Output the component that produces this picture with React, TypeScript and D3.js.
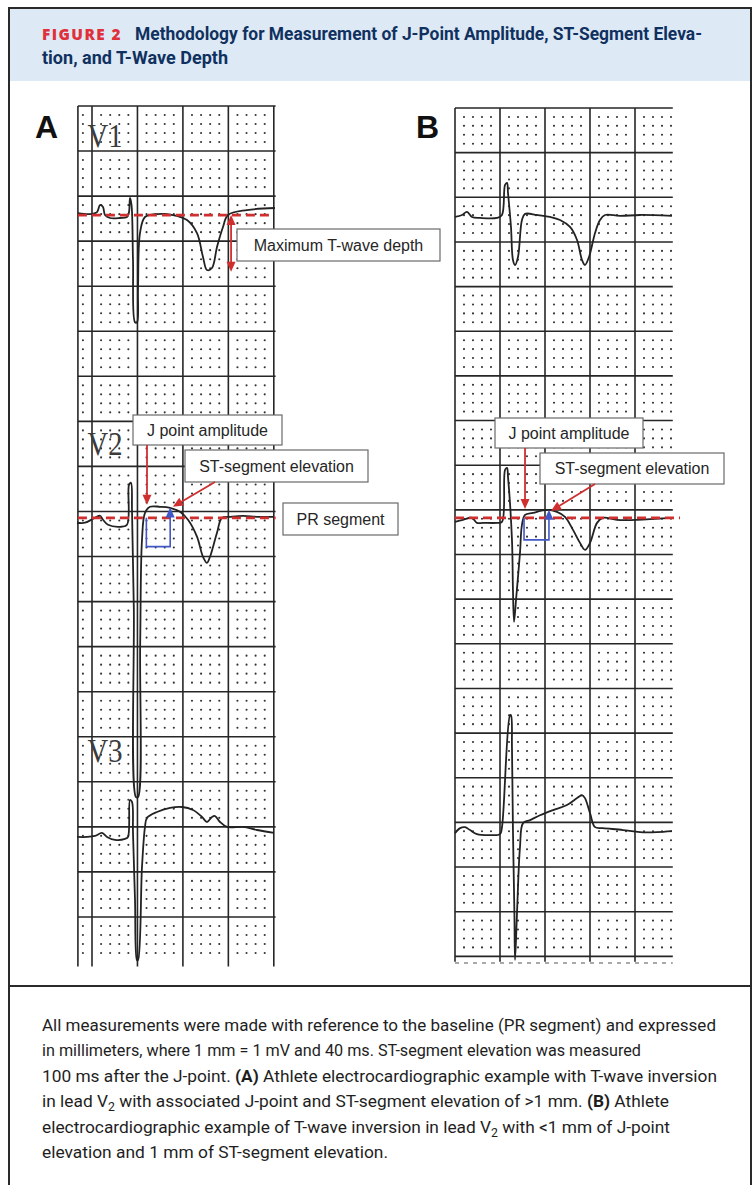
import { useEffect, useRef } from "react";
import * as d3 from "d3";

type Pt = [number, number];

// ECG traces: [time along paper in mm, amplitude in mm above the lead baseline]
const traceAV1: Pt[] = [
  [-1.54, 0.22], [-0.22, 0.11], [0.55, 0.33], [0.88, 1.11], [1.21, 0.89], [1.43, 0], [1.98, -0.33],
  [3.08, -0.33], [3.85, -0.22], [4.07, 0.33], [4.18, 1.89], [4.35, 1.1], [4.51, -5.0], [4.73, -11.9],
  [4.95, -11.9], [5.06, -8.3], [5.28, -2.0], [5.83, -0.22], [7.15, 0.11], [8.91, 0], [10.45, -0.55],
  [11.55, -2.0], [12.21, -4.66], [12.65, -6.1], [13.2, -5.88], [13.75, -3.55], [14.41, -1.33],
  [14.96, 0], [17.05, 0.55], [20.13, 0.78],
];
const traceAV2: Pt[] = [
  [-1.65, -0.55], [-0.77, -0.55], [0.33, 0], [0.88, 0.22], [1.21, -0.22], [1.76, -0.78], [3.08, -1.0],
  [3.85, -0.78], [4.07, 3.66], [4.29, 3.88], [4.4, 0.89], [4.6, -10], [4.84, -31], [5.06, -31],
  [5.3, -14], [5.5, -2.44], [5.83, 0.55], [6.38, 1.22], [7.48, 1.22], [8.58, 1.11], [9.68, 0.67],
  [10.56, -0.22], [11.55, -2.1], [12.21, -4.33], [12.65, -5.0], [12.98, -4.33], [13.75, -1.66],
  [14.3, 0], [15.18, 0.11], [16.61, 0.22], [18.15, 0.11], [20.02, 0.11],
];
const traceAV3: Pt[] = [
  [-1.65, -0.22], [-0.55, -0.22], [0.33, -0.11], [1.1, 0.22], [1.65, -0.22], [2.53, -0.55],
  [3.63, -0.44], [3.96, -0.22], [4.18, 3.88], [4.4, 3.66], [4.51, 0.22], [4.73, -7.2], [4.95, -13.9],
  [5.06, -13.9], [5.5, -3.55], [5.83, 0.89], [6.05, 1.89], [7.15, 2.55], [8.58, 3.0], [9.9, 3.1],
  [11.11, 2.77], [12.1, 2.0], [12.65, 1.44], [13.2, 2.0], [13.53, 2.1], [14.08, 1.44], [14.85, 0.89],
  [16.61, 0.89], [18.15, 0.55], [20.02, 0.22],
];
const traceBV1: Pt[] = [
  [0, 0], [0.78, 0.22], [1.33, 0.56], [1.89, 0], [2.78, -0.11], [4.67, -0.11], [5.22, 0.22],
  [5.56, 3.58], [5.78, 3.81], [5.89, 2.69], [6.22, -1.12], [6.44, -4.82], [6.67, -5.38], [7.0, -4.48],
  [7.44, -0.34], [7.78, 0.34], [9.11, 0.22], [10.56, 0], [11.67, -0.34], [12.78, -1.12],
  [13.56, -2.58], [14.11, -4.82], [14.44, -5.38], [14.89, -4.48], [15.56, -1.79], [16.11, -0.34],
  [16.67, 0.22], [18.33, 0.11], [20.56, 0.22], [24.1, 0.11],
];
const traceBV2: Pt[] = [
  [0, -0.45], [0.89, -0.22], [1.89, 0], [2.44, -0.56], [3.11, -0.56], [4.67, -0.56], [5.22, -0.45],
  [5.56, 5.38], [5.78, 5.6], [5.89, 4.59], [6.33, -2.46], [6.44, -8.06], [6.56, -11.65],
  [6.78, -9.18], [7.22, -3.92], [7.44, -0.78], [7.78, 0.34], [8.67, 0.56], [10.22, 0.9],
  [11.33, 0.67], [12.22, 0.11], [13.11, -1.34], [13.89, -2.8], [14.44, -3.58], [15.0, -2.8],
  [15.78, -0.56], [16.44, 0], [18.0, -0.22], [20.22, -0.22], [23.9, 0],
];
const traceBV3: Pt[] = [
  [0, 0], [0.56, 0.56], [1.11, 0.67], [1.67, 0.34], [2.44, -0.11], [3.89, -0.22], [5.0, -0.11],
  [5.22, 0.67], [6.11, 13.2], [6.22, 13.2], [6.33, 9.6], [6.44, 0.34], [6.6, -8.96], [6.67, -14.2],
  [6.89, -8.96], [7.22, -1.57], [7.56, 1.12], [8.33, 1.46], [9.44, 2.0], [10.89, 2.58], [12.44, 3.14],
  [13.56, 3.92], [14.11, 4.26], [14.44, 3.92], [15.0, 2.24], [15.56, 0.67], [16.44, 0.56],
  [18.67, 0.34], [20.56, 0.11], [22.44, 0.11], [24.1, 0.22],
];

// lead baselines, mm below the top grid line of each panel
const leadNames = ["V1", "V2", "V3"];
const baselinesA = [12.1, 45.7, 80.9];
const baselinesB = [12.2, 45.9, 81.2];

// measurement marks, mm
const tDepthA = 15.3;
const tDepthMinA = -6.3;
const jPointA: Pt = [6.05, 1.44];
const stPointA: Pt = [8.9, 1.22];
const jPointB: Pt = [7.78, 1.0];
const stPointB: Pt = [10.67, 0.78];
const blueA = [5.98, 8.6, -3.2, 1.15]; // t0, t1, bottom, top
const blueB = [7.67, 10.44, -2.46, 0.9];

const titleLine1 = "Methodology for Measurement of J-Point Amplitude, ST-Segment Eleva-";
const titleLine2 = "tion, and T-Wave Depth";

type Seg = { t: string; b?: boolean; sub?: boolean };
const captionLines: Seg[][] = [
  [{ t: "All measurements were made with reference to the baseline (PR segment) and expressed" }],
  [{ t: "in millimeters, where 1 mm = 1 mV and 40 ms. ST-segment elevation was measured" }],
  [{ t: "100 ms after the J-point. " }, { t: "(A)", b: true }, { t: " Athlete electrocardiographic example with T-wave inversion" }],
  [{ t: "in lead V" }, { t: "2", sub: true }, { t: " with associated J-point and ST-segment elevation of >1 mm. " }, { t: "(B)", b: true }, { t: " Athlete" }],
  [{ t: "electrocardiographic example of T-wave inversion in lead V" }, { t: "2", sub: true }, { t: " with <1 mm of J-point" }],
  [{ t: "elevation and 1 mm of ST-segment elevation." }],
];
const captionWidths = [674, 599, 675, 627, 628, 346];

const RED = "#cf2f2f";
const BLUE = "#4157c6";
const INK = "#222";

const App = () => {
  const ref = useRef<SVGSVGElement>(null);

  useEffect(() => {
    const svg = d3.select(ref.current);
    svg.selectAll("*").remove();

    // header
    svg.append("rect").attr("x", 10).attr("y", 9).attr("width", 740).attr("height", 72).attr("fill", "#dde9f5");
    svg.append("text")
      .attr("x", 42).attr("y", 40)
      .attr("fill", "#e0303a").attr("font-family", "Open Sans, sans-serif")
      .attr("font-weight", 800).attr("font-size", 15).attr("letter-spacing", 1.4)
      .attr("textLength", 80).attr("lengthAdjust", "spacingAndGlyphs")
      .text("FIGURE 2");
    svg.append("text")
      .attr("x", 135).attr("y", 40)
      .attr("fill", "#10315f").attr("font-family", "Roboto, sans-serif")
      .attr("font-weight", 700).attr("font-size", 17.5)
      .attr("textLength", 567).attr("lengthAdjust", "spacingAndGlyphs")
      .text(titleLine1);
    svg.append("text")
      .attr("x", 42).attr("y", 64)
      .attr("fill", "#10315f").attr("font-family", "Roboto, sans-serif")
      .attr("font-weight", 700).attr("font-size", 17.5)
      .attr("textLength", 186).attr("lengthAdjust", "spacingAndGlyphs")
      .text(titleLine2);

    // frame
    svg.append("rect").attr("x", 9).attr("y", 8).attr("width", 742).attr("height", 1200)
      .attr("fill", "none").attr("stroke", "#2a2a2a").attr("stroke-width", 2);
    svg.append("line").attr("x1", 9).attr("x2", 751).attr("y1", 986).attr("y2", 986)
      .attr("stroke", "#2a2a2a").attr("stroke-width", 2);

    const panels = [
      {
        letter: "A", letterX: 35,
        x: d3.scaleLinear().domain([0, 20]).range([92, 273.8]),
        y: d3.scaleLinear().domain([0, 95]).range([106, 962]),
        vLines: [-1.55, 0, 5, 10, 15, 20], hLeft: -1.55, hRight: 20.2,
        hLines: d3.range(0, 91, 5), bottom: 95.5,
        dotCols: [-1, ...d3.range(1, 20).filter(t => t % 5 !== 0)],
        dotRows: d3.range(1, 95).filter(m => m % 5 !== 0),
        traces: [traceAV1, traceAV2, traceAV3], base: baselinesA, labels: true,
      },
      {
        letter: "B", letterX: 416,
        x: d3.scaleLinear().domain([0, 24.2]).range([455, 672.8]),
        y: d3.scaleLinear().domain([0, 95.6]).range([108, 961.7]),
        vLines: [0, 5, 10, 15, 20], hLeft: 0, hRight: 24.2,
        hLines: d3.range(0, 96, 5), bottom: 95.6,
        dotCols: d3.range(1, 25).filter(t => t % 5 !== 0),
        dotRows: d3.range(1, 95).filter(m => m % 5 !== 0),
        traces: [traceBV1, traceBV2, traceBV3], base: baselinesB, labels: false,
      },
    ];

    panels.forEach(p => {
      const g = svg.append("g");

      // dots of the 1 mm grid
      const dots = p.dotRows.flatMap(m => p.dotCols.map(t => [t, m]));
      g.selectAll(".dot")
        .data(dots)
        .enter().append("circle")
        .attr("cx", d => p.x(d[0]))
        .attr("cy", d => p.y(d[1]))
        .attr("r", 1.05)
        .attr("fill", "#333");

      // 5 mm lines
      g.selectAll(".hl")
        .data(p.hLines)
        .enter().append("line")
        .attr("x1", p.x(p.hLeft)).attr("x2", p.x(p.hRight))
        .attr("y1", d => p.y(d)).attr("y2", d => p.y(d))
        .attr("stroke", "#262626").attr("stroke-width", 1.6);
      g.selectAll(".vl")
        .data(p.vLines)
        .enter().append("line")
        .attr("x1", d => p.x(d)).attr("x2", d => p.x(d))
        .attr("y1", p.y(0)).attr("y2", p.y(p.bottom))
        .attr("stroke", "#262626").attr("stroke-width", 1.6);

      // panel letter
      g.append("text")
        .attr("x", p.letterX).attr("y", 138)
        .attr("font-family", "Liberation Sans, Arial, sans-serif")
        .attr("font-weight", 700).attr("font-size", 32)
        .attr("fill", "#111")
        .text(p.letter);

      // lead names
      if (p.labels) {
        leadNames.forEach((name, i) => {
          g.append("text")
            .attr("x", p.x(-0.5)).attr("y", p.y(p.base[i]) - [68, 63, 73][i])
            .attr("font-family", "Liberation Serif, Times New Roman, serif")
            .attr("font-size", 33).attr("fill", "#3c3c3c")
            .attr("textLength", 35).attr("lengthAdjust", "spacingAndGlyphs")
            .text(name);
        });
      }

      // traces
      p.traces.forEach((tr, i) => {
        const line = d3.line<Pt>()
          .x(d => p.x(d[0]))
          .y(d => p.y(p.base[i] - d[1]))
          .curve(d3.curveCatmullRom.alpha(0.5));
        g.append("path")
          .attr("d", line(tr))
          .attr("fill", "none")
          .attr("stroke", INK)
          .attr("stroke-width", 1.8)
          .attr("stroke-linejoin", "round");
      });
    });

    const [pA, pB] = panels;
    const ax = (p: typeof pA, i: number, t: number, a: number): Pt => [p.x(t), p.y(p.base[i] - a)];

    // dotted edge at the foot of panel B
    svg.append("line")
      .attr("x1", pB.x(0)).attr("x2", pB.x(24.2))
      .attr("y1", 963).attr("y2", 963)
      .attr("stroke", "#555").attr("stroke-width", 1.2).attr("stroke-dasharray", "4,5");

    const arrowHead = (x1: number, y1: number, x2: number, y2: number, color: string) => {
      const ang = Math.atan2(y2 - y1, x2 - x1);
      const L = 10, W = 4.5;
      const c = Math.cos(ang), s = Math.sin(ang);
      const pts = [
        [x2, y2],
        [x2 - L * c + W * s, y2 - L * s - W * c],
        [x2 - L * c - W * s, y2 - L * s + W * c],
      ];
      svg.append("polygon").attr("points", pts.map(q => q.join(",")).join(" ")).attr("fill", color);
      return [x2 - L * 0.8 * c, y2 - L * 0.8 * s];
    };
    const arrow = (x1: number, y1: number, x2: number, y2: number, color: string, both = false) => {
      const [ex, ey] = arrowHead(x1, y1, x2, y2, color);
      let sx = x1, sy = y1;
      if (both) [sx, sy] = arrowHead(x2, y2, x1, y1, color);
      svg.append("line").attr("x1", sx).attr("y1", sy).attr("x2", ex).attr("y2", ey)
        .attr("stroke", color).attr("stroke-width", 1.8);
    };

    // red dashed baselines
    const dashed = (p: typeof pA, i: number, t0: number, t1: number) => {
      svg.append("line")
        .attr("x1", p.x(t0)).attr("x2", p.x(t1))
        .attr("y1", p.y(p.base[i])).attr("y2", p.y(p.base[i]))
        .attr("stroke", RED).attr("stroke-width", 2.8).attr("stroke-dasharray", "9,5");
    };
    dashed(pA, 0, -1.55, 19.9);
    dashed(pA, 1, -1.55, 20.2);
    dashed(pB, 1, 0, 25);

    // blue J-to-ST marker
    const blue = (p: typeof pA, b: number[]) => {
      const [x0, yb] = ax(p, 1, b[0], b[2]);
      const [x1] = ax(p, 1, b[1], b[2]);
      const [, y0] = ax(p, 1, b[0], 0);
      const [, yt] = ax(p, 1, b[1], b[3]);
      svg.append("path")
        .attr("d", `M${x0},${y0}V${yb}H${x1}V${yt + 6}`)
        .attr("fill", "none").attr("stroke", BLUE).attr("stroke-width", 1.6);
      arrowHead(x1, yb, x1, yt, BLUE);
    };
    blue(pA, blueA);
    blue(pB, blueB);

    // annotation boxes
    const box = (x: number, y: number, w: number, h: number, label: string) => {
      svg.append("rect").attr("x", x).attr("y", y).attr("width", w).attr("height", h)
        .attr("fill", "#fff").attr("stroke", "#6a6a6a").attr("stroke-width", 1.2);
      svg.append("text")
        .attr("x", x + w / 2).attr("y", y + h / 2 + 5.5)
        .attr("text-anchor", "middle")
        .attr("font-family", "Liberation Sans, Arial, sans-serif")
        .attr("font-size", 16).attr("fill", "#262626")
        .text(label);
    };

    // A / V1 T-wave depth
    const [dx, dy0] = ax(pA, 0, tDepthA, 0);
    const [, dy1] = ax(pA, 0, tDepthA, tDepthMinA);
    arrow(dx, dy0, dx, dy1, RED, true);
    box(237, 229, 203, 32, "Maximum T-wave depth");

    // A / V2
    box(133, 415, 149, 30, "J point amplitude");
    box(185, 450, 183, 32, "ST-segment elevation");
    box(283, 503, 115, 32, "PR segment");
    const [jxA, jyA] = ax(pA, 1, jPointA[0], jPointA[1]);
    arrow(jxA, 445, jxA, jyA, RED);
    const [sxA, syA] = ax(pA, 1, stPointA[0], stPointA[1]);
    arrow(215, 482, sxA, syA, RED);

    // B / V2
    box(495, 418, 148, 30, "J point amplitude");
    box(540, 453, 184, 31, "ST-segment elevation");
    const [jxB, jyB] = ax(pB, 1, jPointB[0], jPointB[1]);
    arrow(jxB, 448, jxB, jyB, RED);
    const [sxB, syB] = ax(pB, 1, stPointB[0], stPointB[1]);
    arrow(595, 484, sxB, syB, RED);

    // caption
    captionLines.forEach((segs, i) => {
      const t = svg.append("text")
        .attr("x", 42).attr("y", 1031 + i * 25.4)
        .attr("font-family", "Roboto, sans-serif")
        .attr("font-size", 17).attr("fill", "#1e1e1e")
        .attr("textLength", captionWidths[i]).attr("lengthAdjust", "spacingAndGlyphs");
      let shifted = false;
      segs.forEach(sg => {
        const ts = t.append("tspan").text(sg.t);
        if (sg.b) ts.attr("font-weight", 700);
        if (sg.sub) {
          ts.attr("font-size", 12).attr("dy", 4);
          shifted = true;
        } else if (shifted) {
          ts.attr("dy", -4);
          shifted = false;
        }
      });
    });
  }, []);

  return (
    <svg
      ref={ref}
      width={756}
      height={1185}
      style={{ position: "absolute", left: 0, top: 0, background: "#fff" }}
    />
  );
};

export default App;
